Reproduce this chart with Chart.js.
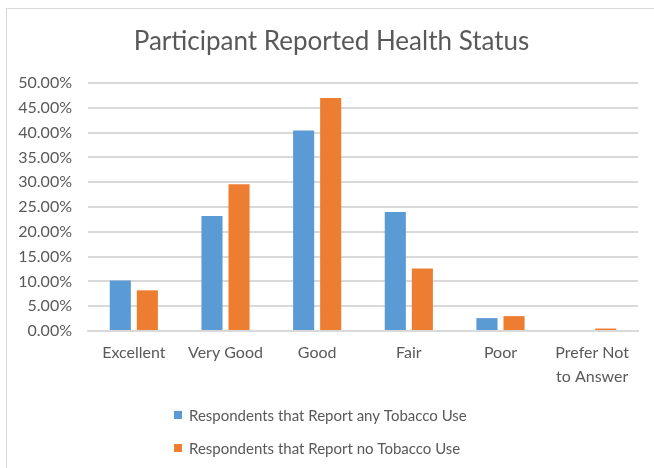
<!DOCTYPE html>
<html>
<head>
<meta charset="utf-8">
<script src="https://cdn.jsdelivr.net/npm/chart.js@4"></script>
<style>
  html, body { margin: 0; padding: 0; background: #fff; }
  #wrap { position: relative; width: 654px; height: 468px; overflow: hidden; }
  #frame { position: absolute; left: 6px; top: 8px; width: 660px; height: 470px; border: 1px solid #d9d9d9; box-sizing: border-box; pointer-events: none; }
  canvas { position: absolute; left: 0; top: 0; }
</style>
</head>
<body>
<div id="wrap">
  <canvas id="chart" width="654" height="468"></canvas>
  <div id="frame"></div>
</div>
<script>
  // dados
  const categories = ['Excellent', 'Very Good', 'Good', 'Fair', 'Poor', ['Prefer Not', 'to Answer']];
  const anyTobacco = [10.2, 23.2, 40.4, 24.0, 2.6, 0];
  const noTobacco = [8.2, 29.6, 47.0, 12.6, 3.0, 0.5];
  const seriesNames = ['Respondents that Report any Tobacco Use', 'Respondents that Report no Tobacco Use'];
  const yTicks = [0, 5, 10, 15, 20, 25, 30, 35, 40, 45, 50];

  const FONT = 'Lato, "Open Sans", sans-serif';
  const GREY = '#595959';

  // legenda vertical desenhada no espaço de baixo + título deslocado
  const stackedLegend = {
    id: 'stackedLegend',
    afterLayout(chart) {
      // o título no original fica centrado um pouco mais à direita
      if (chart.titleBlock) chart.titleBlock.left += 25;
    },
    afterDraw(chart) {
      const ctx = chart.ctx;
      const rows = [415, 448];
      ctx.save();
      ctx.font = '15px ' + FONT;
      ctx.textBaseline = 'middle';
      chart.data.datasets.forEach((ds, i) => {
        const y = rows[i];
        ctx.fillStyle = ds.backgroundColor;
        ctx.fillRect(174, y - 4, 8, 8);
        ctx.fillStyle = GREY;
        ctx.fillText(ds.label, 189, y + 1);
      });
      ctx.restore();
    }
  };

  new Chart(document.getElementById('chart').getContext('2d'), {
    type: 'bar',
    data: {
      labels: categories,
      datasets: [
        { label: seriesNames[0], data: anyTobacco, backgroundColor: '#5B9BD5' },
        { label: seriesNames[1], data: noTobacco, backgroundColor: '#ED7D31' }
      ]
    },
    options: {
      responsive: false,
      animation: false,
      layout: { padding: { left: 0, right: 16, top: 0, bottom: 77 } },
      categoryPercentage: 0.59,
      barPercentage: 0.78,
      plugins: {
        legend: { display: false },
        tooltip: { enabled: false },
        title: {
          display: true,
          text: 'Participant Reported Health Status',
          color: GREY,
          font: { family: FONT, size: 26, weight: 'normal' },
          padding: { top: 25.6, bottom: 26.2 }
        }
      },
      scales: {
        x: {
          grid: { display: false, drawTicks: false },
          border: { color: '#d9d9d9', width: 2 },
          ticks: { color: GREY, font: { family: FONT, size: 16, lineHeight: 1.5 }, padding: 10, maxRotation: 0, autoSkip: false },
          afterFit: s => { s.height = 60; }
        },
        y: {
          min: 0,
          max: 50,
          afterBuildTicks: s => { s.ticks = yTicks.map(v => ({ value: v })); },
          grid: { color: '#d9d9d9', lineWidth: 2, drawTicks: false },
          border: { display: false },
          ticks: { color: GREY, font: { family: FONT, size: 16 }, padding: 16, callback: v => v.toFixed(2) + '%' },
          afterFit: s => { s.width = 88; }
        }
      }
    },
    plugins: [stackedLegend]
  });
</script>
</body>
</html>
